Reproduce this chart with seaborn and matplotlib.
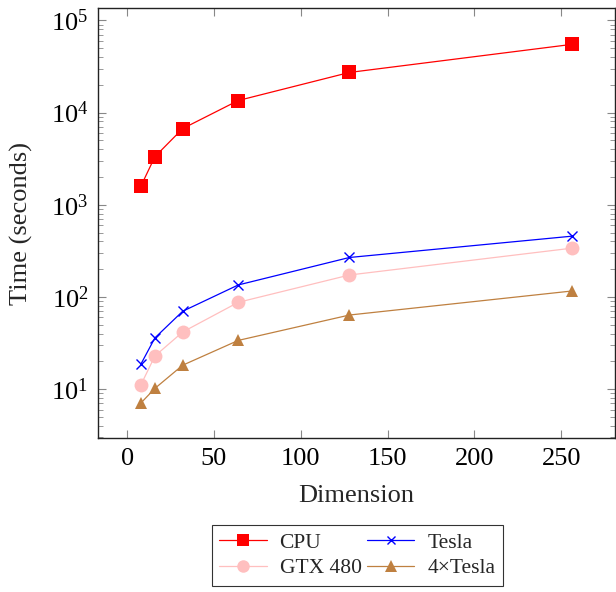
import pandas as pd
import matplotlib
matplotlib.use("Agg")
import matplotlib.pyplot as plt
import seaborn as sns

# Data
dimension = [8, 16, 32, 64, 128, 256]
cpu = [1600, 3320, 6700, 13500, 27200, 54800]
tesla = [18.8, 36, 70, 135, 268, 456]
gtx480 = [11.2, 22.9, 41.7, 87.5, 173, 338]
tesla4 = [7.1, 10.2, 18.2, 33.8, 63.7, 116]

series_names = ["CPU", "Tesla", "GTX 480", "4\u00d7Tesla"]

sns.set_style("ticks")
plt.rcParams['font.family'] = ['Liberation Serif', 'DejaVu Serif']
plt.rcParams['mathtext.fontset'] = 'stix'

fig = plt.figure(figsize=(6.16, 5.92), dpi=100)
ax = fig.add_axes([0.159, 0.260, 0.839, 0.726])

styles = [
    (cpu, 'red', 's', 10, 'red'),
    (tesla, 'blue', 'x', 7, 'blue'),
    (gtx480, '#ffbfbf', 'o', 10, '#ffbfbf'),
    (tesla4, '#bf8040', '^', 9, '#bf8040'),
]
for name, (vals, col, mk, ms, fc) in zip(series_names, styles):
    df = pd.DataFrame({'Dimension': dimension, 'Time': vals})
    sns.lineplot(data=df, x='Dimension', y='Time', ax=ax, color=col,
                 marker=mk, markersize=ms, markerfacecolor=fc,
                 markeredgecolor=fc, markeredgewidth=1.0 if mk == 'x' else 0,
                 linewidth=0.9, label=name)

ax.set_yscale('log')
ax.set_xlim(-16.8, 280.8)
ax.set_ylim(2.95, 1.35e5)
ax.set_xticks([0, 50, 100, 150, 200, 250])

ax.tick_params(axis='both', which='both', direction='in', top=True, right=True,
               color='#888888', labelsize=19, labelcolor='black')
ax.tick_params(axis='both', which='major', length=6, width=0.8, pad=7)
ax.tick_params(axis='y', which='minor', length=3.5, width=0.6)
for sp in ax.spines.values():
    sp.set_color('#222222')
    sp.set_linewidth(1.0)

ax.set_xlabel('Dimension', fontsize=19, labelpad=11)
ax.set_ylabel('Time (seconds)', fontsize=19, labelpad=13)

handles, labels = ax.get_legend_handles_labels()
# two columns filled row-wise: CPU, Tesla / GTX 480, 4xTesla
order = [0, 2, 1, 3]
leg = ax.legend([handles[i] for i in order], [labels[i] for i in order],
                ncol=2, loc='upper center', borderaxespad=0,
                bbox_to_anchor=(0.58, 0.113), bbox_transform=fig.transFigure,
                fontsize=15.5, frameon=True, fancybox=False, edgecolor='black',
                handlelength=2.2, columnspacing=0.25, handletextpad=0.6,
                borderpad=0.35, labelspacing=0.25, markerscale=0.9)
leg.get_frame().set_linewidth(0.8)

fig.savefig('out.png', dpi=100)
